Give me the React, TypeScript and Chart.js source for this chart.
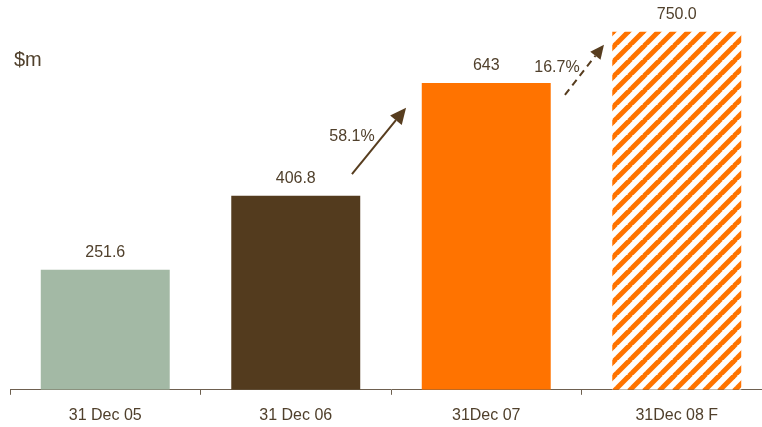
import { useEffect, useRef } from "react";
import { Chart, registerables } from "chart.js";

Chart.register(...registerables);

// Reported values, $m
const categories = ["31 Dec 05", "31 Dec 06", "31Dec 07", "31Dec 08 F"];
const values = [251.6, 406.8, 643, 750.0];
const valueLabels = ["251.6", "406.8", "643", "750.0"];
const growthLabels = ["58.1%", "16.7%"];
const unitLabel = "$m";

const TEXT = "#50402c";
const AXIS = "#6e6050";
const ARROW = "#573d1f";
const FONT = "'Liberation Sans', Arial, sans-serif";

// Growth arrows in data space: x as a category index, y as a $m value
const growthArrows = [
  { from: [1.295, 452], to: [1.579, 591], label: [1.295, 531], dashed: false, head: 16, headW: 15 },
  { from: [2.413, 618], to: [2.618, 723], label: [2.371, 675], dashed: true, head: 14, headW: 13 },
];

function makeHatch(): CanvasPattern | string {
  const t = document.createElement("canvas");
  const s = 15;
  t.width = s;
  t.height = s;
  const g = t.getContext("2d");
  if (!g) return "#ff7300";
  g.fillStyle = "#ffffff";
  g.fillRect(0, 0, s, s);
  g.strokeStyle = "#ff7300";
  g.lineWidth = 5;
  for (const o of [-s, 0, s]) {
    g.beginPath();
    g.moveTo(o - 1, s + 1);
    g.lineTo(o + s + 1, -1);
    g.stroke();
  }
  const p = g.createPattern(t, "repeat");
  return p ?? "#ff7300";
}

const annotate = {
  id: "annotate",
  afterDatasetsDraw(chart: any) {
    const { ctx } = chart;
    const xs = chart.scales.x;
    const ys = chart.scales.y;
    const meta = chart.getDatasetMeta(0);
    const px = (i: number) => {
      const c0 = xs.getPixelForValue(0);
      const c1 = xs.getPixelForValue(1);
      return c0 + (c1 - c0) * i;
    };
    ctx.save();
    ctx.font = `16px ${FONT}`;
    ctx.fillStyle = TEXT;
    ctx.textAlign = "center";
    ctx.textBaseline = "middle";
    meta.data.forEach((bar: any, i: number) => {
      ctx.fillText(valueLabels[i], bar.x, bar.y - 17);
    });

    growthArrows.forEach((a, i) => {
      const x1 = px(a.from[0]);
      const y1 = ys.getPixelForValue(a.from[1]);
      const x2 = px(a.to[0]);
      const y2 = ys.getPixelForValue(a.to[1]);
      const ang = Math.atan2(y2 - y1, x2 - x1);
      const bx = x2 - Math.cos(ang) * a.head;
      const by = y2 - Math.sin(ang) * a.head;
      ctx.strokeStyle = ARROW;
      ctx.fillStyle = ARROW;
      ctx.lineWidth = 2;
      ctx.setLineDash(a.dashed ? [7, 5] : []);
      ctx.beginPath();
      ctx.moveTo(x1, y1);
      ctx.lineTo(bx, by);
      ctx.stroke();
      ctx.setLineDash([]);
      const nx = -Math.sin(ang) * a.headW / 2;
      const ny = Math.cos(ang) * a.headW / 2;
      ctx.beginPath();
      ctx.moveTo(x2, y2);
      ctx.lineTo(bx + nx, by + ny);
      ctx.lineTo(bx - nx, by - ny);
      ctx.closePath();
      ctx.fill();

      ctx.fillStyle = TEXT;
      ctx.fillText(growthLabels[i], px(a.label[0]), ys.getPixelForValue(a.label[1]));
    });

    ctx.font = `20px ${FONT}`;
    ctx.textAlign = "left";
    ctx.textBaseline = "alphabetic";
    ctx.fillStyle = TEXT;
    ctx.fillText(unitLabel, 14, 66);
    ctx.restore();
  },
};

export default function App() {
  const ref = useRef<HTMLCanvasElement>(null);

  useEffect(() => {
    if (!ref.current) return;
    const colors: (string | CanvasPattern)[] = ["#a3b9a5", "#533b1e", "#ff7300", makeHatch()];
    const chart = new Chart(ref.current, {
      type: "bar",
      data: {
        labels: categories,
        datasets: [
          {
            data: values,
            backgroundColor: colors as any,
            borderWidth: 0,
            barPercentage: 0.677,
            categoryPercentage: 1,
          },
        ],
      },
      options: {
        responsive: false,
        animation: false,
        devicePixelRatio: 1,
        layout: { padding: { left: 10, right: 0, top: 8, bottom: 0 } },
        plugins: { legend: { display: false }, tooltip: { enabled: false } },
        scales: {
          x: {
            grid: {
              offset: true,
              drawOnChartArea: false,
              drawTicks: true,
              tickLength: 5,
              color: AXIS,
              lineWidth: 1,
            },
            border: { display: true, color: AXIS, width: 1 },
            ticks: { color: TEXT, font: { family: FONT, size: 16 }, padding: 11 },
          },
          y: { display: false, min: 0, max: 800 },
        },
      },
      plugins: [annotate],
    });
    return () => chart.destroy();
  }, []);

  return (
    <div
      style={{
        position: "absolute",
        left: 0,
        top: 0,
        width: 762,
        height: 427,
        overflow: "hidden",
        background: "#ffffff",
      }}
    >
      <canvas ref={ref} width={772} height={436} style={{ display: "block" }} />
    </div>
  );
}
